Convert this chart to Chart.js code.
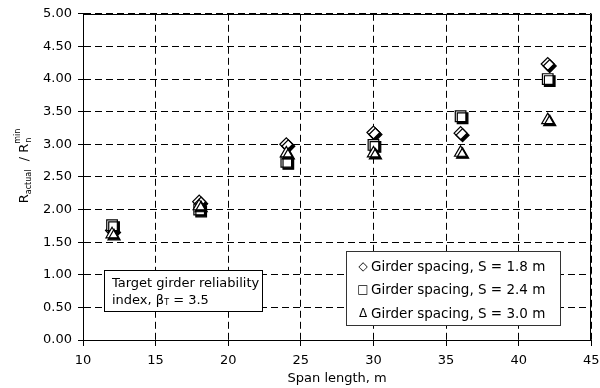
<!DOCTYPE html>
<html>
<head>
<meta charset="utf-8">
<script src="https://cdn.jsdelivr.net/npm/chart.js@4"></script>
<style>
  html, body { margin: 0; padding: 0; background: #fff; }
  #wrap { width: 600px; height: 388px; }
</style>
</head>
<body>
<div id="wrap"><canvas id="girderChart" width="600" height="388"></canvas></div>
<script>
// span lengths (m) and R_actual / R_n^min for each girder spacing
const spans = [12, 18, 24, 30, 36, 42];
const spacing18 = [1.68, 2.12, 3.00, 3.18, 3.17, 4.23];
const spacing24 = [1.76, 2.00, 2.73, 2.99, 3.43, 4.00];
const spacing30 = [1.62, 2.05, 2.86, 2.86, 2.87, 3.37];
const seriesLabels = ['Girder spacing, S = 1.8 m', 'Girder spacing, S = 2.4 m', 'Girder spacing, S = 3.0 m'];
const legendSymbols = ['\u25C7', '\u25A1', '\u0394'];

const FONT = 'DejaVu Sans, Verdana, sans-serif';

const toPoints = (vals) => spans.map((x, i) => ({ x: x, y: vals[i] }));

// offset black shadow behind the markers
const shadowPlugin = {
    id: 'markerShadow',
    beforeDatasetsDraw(chart) {
        const ctx = chart.ctx;
        ctx.save();
        ctx.shadowColor = '#000';
        ctx.shadowOffsetX = 2;
        ctx.shadowOffsetY = 2;
        ctx.shadowBlur = 0;
    },
    afterDatasetsDraw(chart) {
        chart.ctx.restore();
    }
};

// frame, y title with sub/superscripts, note box and legend box
const extrasPlugin = {
    id: 'extras',
    beforeDatasetsDraw(chart) {
        const ctx = chart.ctx;
        const a = chart.chartArea;
        ctx.save();
        ctx.strokeStyle = '#000';
        ctx.lineWidth = 1;
        ctx.beginPath();
        ctx.moveTo(Math.round(a.left) + 0.5, Math.round(a.top) + 0.5);
        ctx.lineTo(Math.round(a.right) - 0.5, Math.round(a.top) + 0.5);
        ctx.lineTo(Math.round(a.right) - 0.5, Math.round(a.bottom));
        ctx.stroke();
        ctx.restore();
    },
    afterDraw(chart) {
        const ctx = chart.ctx;
        ctx.save();
        ctx.fillStyle = '#000';

        // y axis title, rotated
        ctx.translate(23, 166);
        ctx.rotate(-Math.PI / 2);
        ctx.textBaseline = 'alphabetic';
        ctx.textAlign = 'left';
        const big = '13px ' + FONT;
        const small = '8px ' + FONT;
        ctx.font = big; const wR = ctx.measureText('R').width;
        ctx.font = small; const wAct = ctx.measureText('actual').width;
        ctx.font = big; const wSl = ctx.measureText('  / R').width;
        ctx.font = small; const wSup = Math.max(ctx.measureText('min').width, ctx.measureText('n').width);
        const total = wR + wAct + wSl + wSup;
        let x = -total / 2;
        const base = 5;
        ctx.font = big; ctx.fillText('R', x, base); x += wR;
        ctx.font = small; ctx.fillText('actual', x, base + 3); x += wAct;
        ctx.font = big; ctx.fillText('  / R', x, base); x += wSl;
        ctx.font = small; ctx.fillText('n', x + 1, base + 3); ctx.fillText('min', x, base - 8);
        ctx.restore();

        // target reliability note
        ctx.save();
        ctx.fillStyle = '#fff';
        ctx.strokeStyle = '#000';
        ctx.lineWidth = 1;
        ctx.fillRect(104.5, 270.5, 158, 41);
        ctx.strokeRect(104.5, 270.5, 158, 41);
        ctx.fillStyle = '#000';
        ctx.textBaseline = 'middle';
        ctx.font = '13px ' + FONT;
        ctx.fillText('Target girder reliability', 112, 284);
        let nx = 112;
        ctx.fillText('index, \u03B2', nx, 301);
        nx += ctx.measureText('index, \u03B2').width;
        ctx.font = '8px ' + FONT;
        ctx.fillText('T', nx, 303);
        nx += ctx.measureText('T').width;
        ctx.font = '13px ' + FONT;
        ctx.fillText(' = 3.5', nx, 301);
        ctx.restore();

        // legend
        ctx.save();
        ctx.fillStyle = '#fff';
        ctx.strokeStyle = '#333';
        ctx.lineWidth = 1;
        ctx.fillRect(346.5, 251.5, 214, 74);
        ctx.strokeRect(346.5, 251.5, 214, 74);
        ctx.fillStyle = '#000';
        ctx.textBaseline = 'middle';
        const rows = [267, 290, 314];
        seriesLabels.forEach((label, i) => {
            ctx.font = '12px ' + FONT;
            ctx.textAlign = 'center';
            ctx.fillText(legendSymbols[i], 363, rows[i]);
            ctx.font = '13.5px ' + FONT;
            ctx.textAlign = 'left';
            ctx.fillText(label, 371, rows[i]);
        });
        ctx.restore();
    }
};

const ctx = document.getElementById('girderChart').getContext('2d');

new Chart(ctx, {
    type: 'scatter',
    data: {
        datasets: [{
            label: seriesLabels[0],
            data: toPoints(spacing18),
            pointStyle: 'rectRot',
            pointRadius: 6.5,
            backgroundColor: '#fff',
            borderColor: '#000',
            borderWidth: 1.2,
            order: 3
        }, {
            label: seriesLabels[1],
            data: toPoints(spacing24),
            pointStyle: 'rect',
            pointRadius: 7.5,
            backgroundColor: '#fff',
            borderColor: '#000',
            borderWidth: 1.2,
            order: 2
        }, {
            label: seriesLabels[2],
            data: toPoints(spacing30),
            pointStyle: 'triangle',
            pointRadius: 7,
            backgroundColor: '#fff',
            borderColor: '#000',
            borderWidth: 1.2,
            order: 1
        }]
    },
    options: {
        responsive: false,
        animation: false,
        layout: { padding: { top: 13, right: 0, left: 0, bottom: 0 } },
        plugins: {
            legend: { display: false },
            tooltip: { enabled: false }
        },
        scales: {
            x: {
                type: 'linear',
                min: 10,
                max: 45,
                afterFit: (scale) => {
                    scale.height = 48;
                    scale.paddingLeft = 0;
                    scale.paddingRight = 8;
                },
                ticks: {
                    stepSize: 5,
                    color: '#000',
                    font: { family: FONT, size: 13 },
                    padding: 7,
                    maxRotation: 0
                },
                grid: { color: '#000', tickColor: '#000', tickLength: 6, lineWidth: 1 },
                border: { display: true, color: '#000', width: 1, dash: [7, 4] },
                title: {
                    display: true,
                    text: 'Span length, m',
                    color: '#000',
                    font: { family: FONT, size: 13 },
                    padding: { top: 0, bottom: 2 }
                }
            },
            y: {
                min: 0,
                max: 5,
                afterFit: (scale) => { scale.width = 83; },
                ticks: {
                    stepSize: 0.5,
                    color: '#000',
                    font: { family: FONT, size: 13 },
                    padding: 6,
                    callback: (v) => v.toFixed(2)
                },
                grid: { color: '#000', tickColor: '#000', tickLength: 5, lineWidth: 1 },
                border: { display: true, color: '#000', width: 1, dash: [7, 4] }
            }
        }
    },
    plugins: [extrasPlugin, shadowPlugin]
});
</script>
</body>
</html>
